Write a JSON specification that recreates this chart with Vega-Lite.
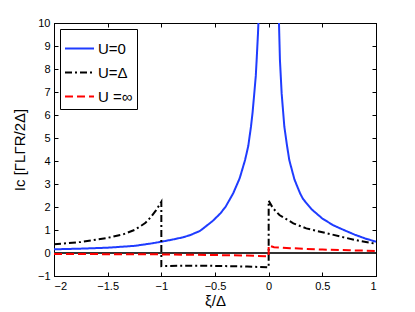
{
  "$schema": "https://vega.github.io/schema/vega-lite/v6.json",
  "width": 322,
  "height": 253,
  "autosize": {"type": "none"},
  "padding": {"left": 54, "top": 23, "right": 39, "bottom": 36},
  "background": "white",
  "config": {
    "view": {"stroke": "#000", "strokeWidth": 1},
    "axis": {
      "grid": false,
      "domainColor": "#000",
      "domainWidth": 1,
      "tickColor": "#000",
      "tickWidth": 1,
      "tickSize": -4,
      "labelFont": "Liberation Sans",
      "labelFontSize": 11,
      "labelColor": "#000",
      "titleFont": "Liberation Sans",
      "titleFontSize": 15,
      "titleFontWeight": "normal",
      "titleColor": "#000"
    },
    "legend": {
      "labelFont": "Liberation Sans",
      "labelFontSize": 15,
      "labelColor": "#000"
    }
  },
  "data": {
    "values": [
      {"i": 0, "s": "U=0", "x": -2, "y": 0.16},
      {"i": 1, "s": "U=0", "x": -1.75, "y": 0.19},
      {"i": 2, "s": "U=0", "x": -1.5, "y": 0.23},
      {"i": 3, "s": "U=0", "x": -1.25, "y": 0.31},
      {"i": 4, "s": "U=0", "x": -1.1, "y": 0.41},
      {"i": 5, "s": "U=0", "x": -1, "y": 0.49},
      {"i": 6, "s": "U=0", "x": -0.9, "y": 0.58},
      {"i": 7, "s": "U=0", "x": -0.8, "y": 0.68},
      {"i": 8, "s": "U=0", "x": -0.73, "y": 0.78},
      {"i": 9, "s": "U=0", "x": -0.64, "y": 0.96},
      {"i": 10, "s": "U=0", "x": -0.59, "y": 1.14},
      {"i": 11, "s": "U=0", "x": -0.52, "y": 1.4},
      {"i": 12, "s": "U=0", "x": -0.45, "y": 1.72},
      {"i": 13, "s": "U=0", "x": -0.4, "y": 2.02},
      {"i": 14, "s": "U=0", "x": -0.33, "y": 2.6},
      {"i": 15, "s": "U=0", "x": -0.27, "y": 3.25},
      {"i": 16, "s": "U=0", "x": -0.22, "y": 4.04},
      {"i": 17, "s": "U=0", "x": -0.19, "y": 4.65},
      {"i": 18, "s": "U=0", "x": -0.165, "y": 5.49},
      {"i": 19, "s": "U=0", "x": -0.15, "y": 6.1},
      {"i": 20, "s": "U=0", "x": -0.134, "y": 6.94},
      {"i": 21, "s": "U=0", "x": -0.12, "y": 7.7},
      {"i": 22, "s": "U=0", "x": -0.112, "y": 8.39},
      {"i": 23, "s": "U=0", "x": -0.1, "y": 9.5},
      {"i": 24, "s": "U=0", "x": -0.09, "y": 10.6},
      {"i": 25, "s": "U=0", "x": -0.08, "y": 12},
      {"i": 26, "s": "U=0", "x": 0.08, "y": 12},
      {"i": 27, "s": "U=0", "x": 0.095, "y": 10.2},
      {"i": 28, "s": "U=0", "x": 0.105, "y": 8.39},
      {"i": 29, "s": "U=0", "x": 0.121, "y": 6.94},
      {"i": 30, "s": "U=0", "x": 0.146, "y": 5.49},
      {"i": 31, "s": "U=0", "x": 0.17, "y": 4.7},
      {"i": 32, "s": "U=0", "x": 0.192, "y": 4.04},
      {"i": 33, "s": "U=0", "x": 0.24, "y": 3.2},
      {"i": 34, "s": "U=0", "x": 0.292, "y": 2.6},
      {"i": 35, "s": "U=0", "x": 0.32, "y": 2.35},
      {"i": 36, "s": "U=0", "x": 0.4, "y": 1.9},
      {"i": 37, "s": "U=0", "x": 0.5, "y": 1.5},
      {"i": 38, "s": "U=0", "x": 0.6, "y": 1.21},
      {"i": 39, "s": "U=0", "x": 0.7, "y": 1.0},
      {"i": 40, "s": "U=0", "x": 0.8, "y": 0.8},
      {"i": 41, "s": "U=0", "x": 0.9, "y": 0.63},
      {"i": 42, "s": "U=0", "x": 1.0, "y": 0.49},

      {"i": 0, "s": "U=Δ", "x": -2, "y": 0.38},
      {"i": 1, "s": "U=Δ", "x": -1.75, "y": 0.48},
      {"i": 2, "s": "U=Δ", "x": -1.5, "y": 0.66},
      {"i": 3, "s": "U=Δ", "x": -1.35, "y": 0.82},
      {"i": 4, "s": "U=Δ", "x": -1.25, "y": 1.0},
      {"i": 5, "s": "U=Δ", "x": -1.15, "y": 1.3},
      {"i": 6, "s": "U=Δ", "x": -1.1, "y": 1.55},
      {"i": 7, "s": "U=Δ", "x": -1.05, "y": 1.85},
      {"i": 8, "s": "U=Δ", "x": -1, "y": 2.23},
      {"i": 9, "s": "U=Δ", "x": -1, "y": -0.57},
      {"i": 10, "s": "U=Δ", "x": -0.8, "y": -0.55},
      {"i": 11, "s": "U=Δ", "x": -0.6, "y": -0.55},
      {"i": 12, "s": "U=Δ", "x": -0.4, "y": -0.57},
      {"i": 13, "s": "U=Δ", "x": -0.2, "y": -0.59},
      {"i": 14, "s": "U=Δ", "x": 0, "y": -0.62},
      {"i": 15, "s": "U=Δ", "x": 0, "y": 2.27},
      {"i": 16, "s": "U=Δ", "x": 0.04, "y": 1.95},
      {"i": 17, "s": "U=Δ", "x": 0.1, "y": 1.65},
      {"i": 18, "s": "U=Δ", "x": 0.23, "y": 1.29},
      {"i": 19, "s": "U=Δ", "x": 0.35, "y": 1.07},
      {"i": 20, "s": "U=Δ", "x": 0.54, "y": 0.86},
      {"i": 21, "s": "U=Δ", "x": 0.7, "y": 0.68},
      {"i": 22, "s": "U=Δ", "x": 0.85, "y": 0.52},
      {"i": 23, "s": "U=Δ", "x": 1, "y": 0.4},

      {"i": 0, "s": "U =∞", "x": -2, "y": -0.04},
      {"i": 1, "s": "U =∞", "x": -1.5, "y": -0.05},
      {"i": 2, "s": "U =∞", "x": -1, "y": -0.06},
      {"i": 3, "s": "U =∞", "x": -0.5, "y": -0.09},
      {"i": 4, "s": "U =∞", "x": -0.2, "y": -0.11},
      {"i": 5, "s": "U =∞", "x": 0, "y": -0.14},
      {"i": 6, "s": "U =∞", "x": 0, "y": 0.33},
      {"i": 7, "s": "U =∞", "x": 0.05, "y": 0.25},
      {"i": 8, "s": "U =∞", "x": 0.2, "y": 0.21},
      {"i": 9, "s": "U =∞", "x": 0.5, "y": 0.15},
      {"i": 10, "s": "U =∞", "x": 0.75, "y": 0.12},
      {"i": 11, "s": "U =∞", "x": 1, "y": 0.09}
    ]
  },
  "layer": [
    {
      "mark": {"type": "rule", "color": "#333", "strokeWidth": 0.8},
      "encoding": {
        "y": {"datum": 0, "type": "quantitative", "scale": {"domain": [-1, 10], "nice": false}, "axis": null}
      }
    },
    {
      "mark": {"type": "line", "strokeWidth": 2, "clip": true},
      "encoding": {
        "x": {
          "field": "x", "type": "quantitative",
          "scale": {"domain": [-2, 1], "nice": false},
          "axis": {"values": [-2, -1.5, -1, -0.5, 0, 0.5, 1], "format": "~g", "title": "ξ/Δ", "labelPadding": 8, "titlePadding": 2}
        },
        "y": {
          "field": "y", "type": "quantitative",
          "scale": {"domain": [-1, 10], "nice": false},
          "axis": {"values": [-1, 0, 1, 2, 3, 4, 5, 6, 7, 8, 9, 10], "format": "d", "title": "Ic [ΓLΓR/2Δ]", "labelPadding": 8, "titlePadding": 10}
        },
        "color": {
          "field": "s", "type": "nominal",
          "scale": {"domain": ["U=0", "U=Δ", "U =∞"], "range": ["#1f3cff", "#000000", "#ff0000"]},
          "legend": {
            "title": null, "orient": "top-left", "offset": 6,
            "symbolType": "stroke", "symbolSize": 841, "symbolStrokeWidth": 2,
            "strokeColor": "#000", "fillColor": "#fff", "padding": 4,
            "rowPadding": -7, "labelOffset": 3
          }
        },
        "strokeDash": {
          "field": "s", "type": "nominal",
          "scale": {"domain": ["U=0", "U=Δ", "U =∞"], "range": [[1, 0], [7, 3, 2, 3], [8, 4]]},
          "legend": {
            "title": null, "orient": "top-left", "offset": 6,
            "symbolType": "stroke", "symbolSize": 841, "symbolStrokeWidth": 2,
            "strokeColor": "#000", "fillColor": "#fff", "padding": 4,
            "rowPadding": -7, "labelOffset": 3
          }
        },
        "order": {"field": "i", "type": "quantitative"}
      }
    },
    {
      "mark": {"type": "line", "opacity": 0},
      "encoding": {
        "x": {
          "field": "x", "type": "quantitative",
          "scale": {"domain": [-2, 1], "nice": false},
          "axis": {"orient": "top", "values": [-2, -1.5, -1, -0.5, 0, 0.5, 1], "labels": false, "title": null}
        },
        "y": {
          "field": "y", "type": "quantitative",
          "scale": {"domain": [-1, 10], "nice": false},
          "axis": {"orient": "right", "values": [-1, 0, 1, 2, 3, 4, 5, 6, 7, 8, 9, 10], "labels": false, "title": null}
        },
        "detail": {"field": "s"}
      }
    }
  ],
  "resolve": {"axis": {"x": "independent", "y": "independent"}}
}
